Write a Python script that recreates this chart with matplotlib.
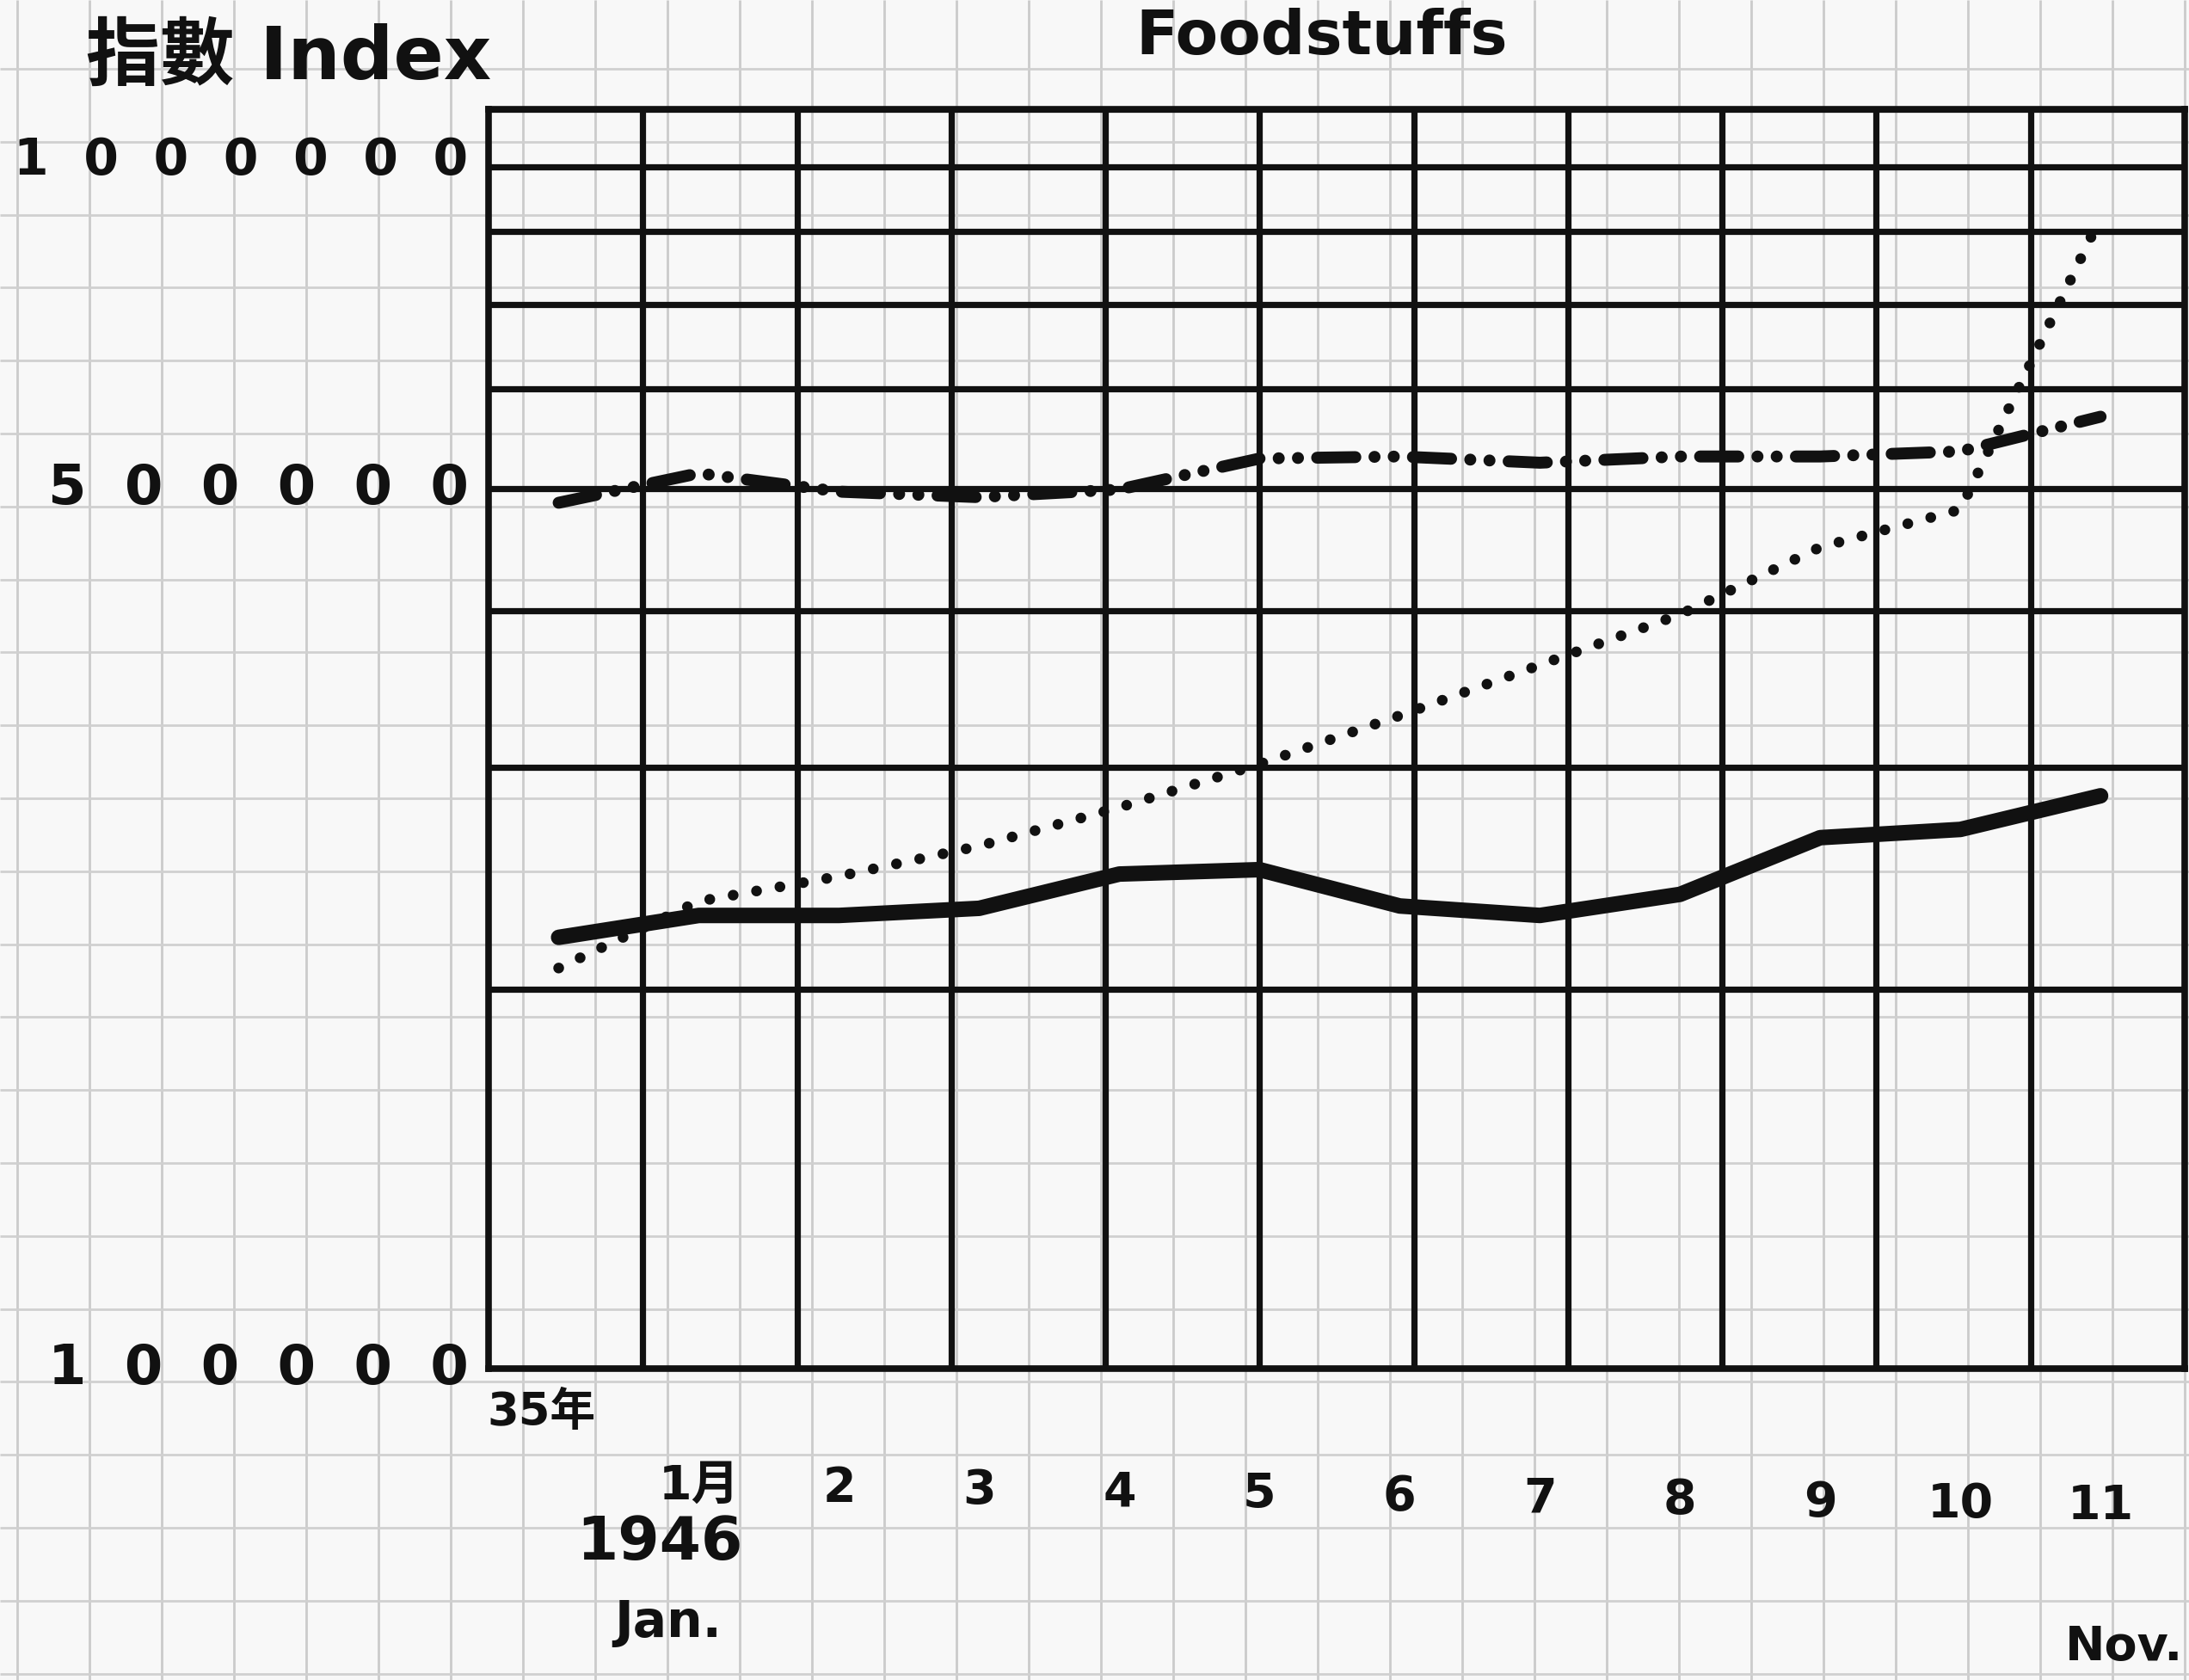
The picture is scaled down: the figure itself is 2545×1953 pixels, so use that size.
import numpy as np
import matplotlib
matplotlib.use("Agg")
import matplotlib.pyplot as plt
from matplotlib.ticker import FixedLocator, NullFormatter

# ---------------------------------------------------------------
# data (index values, log scale)
# month 0 = 1935 base ("35年"), months 1..11 = Jan..Nov 1946
# ---------------------------------------------------------------
months = [0, 1, 2, 3, 4, 5, 6, 7, 8, 9, 10, 11]
month_labels = ["1月", "2", "3", "4", "5", "6", "7", "8", "9", "10", "11"]

solid_series = [220000, 229000, 229000, 232000, 247000, 249000,
                233000, 229000, 238000, 264000, 268000, 285000]
dotted_series = [208000, 235000, 246000, 260000, 279000, 302000,
                 330000, 362000, 397000, 449000, 481000, 821000]
dashdot_series = [487000, 514000, 497000, 492000, 499000, 528000,
                  530000, 524000, 530000, 530000, 535000, 570000]

y_ticks = [100000, 500000, 1000000]
y_tick_labels = ["1  0  0  0  0  0", "5  0  0  0  0  0", "1  0  0  0  0  0  0"]

W, H = 2545, 1953
INK = "#111111"
BOLD = dict(fontweight="bold", color=INK)
CJK = ["DejaVu Sans", "Noto Sans CJK TC"]

fig = plt.figure(figsize=(W / 100, H / 100), dpi=100)
fig.patch.set_facecolor("#f8f8f8")

# ── graph paper background ─────────────────────────────
bg = fig.add_axes([0, 0, 1, 1], zorder=0)
bg.set_xlim(0, W)
bg.set_ylim(H, 0)
bg.axis("off")
bg.vlines(np.arange(20, W, 84), 0, H, color="#cbcbcb", lw=2)
bg.hlines(np.arange(80, H, 84.8), 0, W, color="#d0d0d0", lw=2)

# ── main chart ─────────────────────────────────────────
ax = fig.add_axes([568 / W, 1 - 1591 / H, (2540 - 568) / W, (1591 - 127) / H],
                  zorder=1)
ax.patch.set_alpha(0)
ax.set_yscale("log")
ax.set_ylim(1e5, 1e6)
ax.set_xlim(-0.5, 11.6)

# heavy hand-ruled grid
ax.set_yticks(y_ticks)
ax.set_yticklabels([])
ax.yaxis.set_minor_locator(FixedLocator(np.arange(2e5, 1e6, 1e5)))
ax.yaxis.set_minor_formatter(NullFormatter())
ax.set_xticks([])
ax.xaxis.set_minor_locator(FixedLocator(np.linspace(-0.5, 11.6, 12)[1:-1]))
ax.tick_params(which="both", length=0)
ax.grid(True, which="both", color=INK, lw=5.2)
for sp in ax.spines.values():
    sp.set_linewidth(5.5)
    sp.set_color(INK)

# series
ax.plot(months, solid_series, color=INK, lw=13,
        solid_capstyle="round", solid_joinstyle="round", zorder=5)
ax.plot(months, dotted_series, color=INK, lw=9,
        linestyle=(0, (0.01, 2.2)), dash_capstyle="round", zorder=5)
ax.plot(months, dashdot_series, color=INK, lw=10,
        linestyle=(0, (3.2, 1.6, 0.01, 1.6, 0.01, 1.6)),
        dash_capstyle="round", zorder=5)

# y labels (hand-lettered, the top one sits a little low)
y_offsets = [0, 0, -43]
y_sizes = [46, 46, 42]
for val, lab, dy, fs in zip(y_ticks, y_tick_labels, y_offsets, y_sizes):
    ax.annotate(lab, xy=(0, val), xycoords=("axes fraction", "data"),
                xytext=(-17, dy), textcoords="offset points",
                ha="right", va="center", fontsize=fs, **BOLD)

# x labels
xt = ax.get_xaxis_transform()
for m, lab in zip(months[1:], month_labels):
    ax.text(m, -0.092 - 0.0016 * m, lab, transform=xt, ha="center",
            va="center", fontsize=40, family=CJK, **BOLD)
ax.text(-0.12, -0.035, "35年", transform=xt, ha="center", va="center",
        fontsize=38, family=CJK, **BOLD)
ax.text(0.72, -0.138, "1946", transform=xt, ha="center", va="center",
        fontsize=50, **BOLD)
ax.text(0.78, -0.202, "Jan.", transform=xt, ha="center", va="center",
        fontsize=42, **BOLD)
fig.text(2470 / W, 1 - 1915 / H, "Nov.", ha="center", va="center",
         fontsize=40, **BOLD)

# titles
fig.text(1537 / W, 1 - 44 / H, "Foodstuffs", ha="center", va="center",
         fontsize=52, **BOLD)
fig.text(100 / W, 1 - 68 / H, "指數 Index", ha="left", va="center",
         fontsize=62, family=CJK, **BOLD)

fig.savefig("out.png", dpi=100, facecolor=fig.get_facecolor())
